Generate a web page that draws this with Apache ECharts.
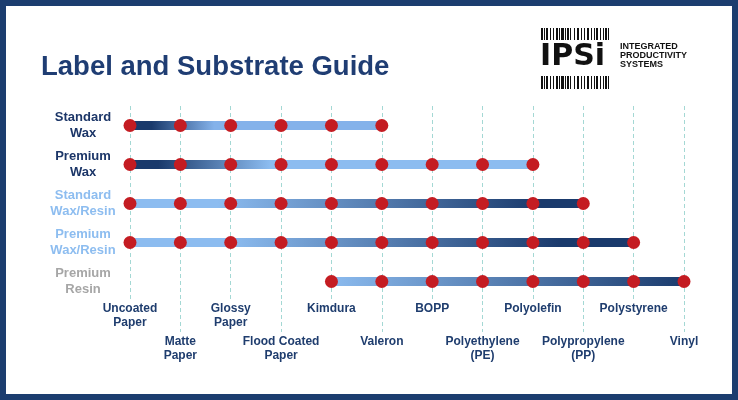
<!DOCTYPE html>
<html>
<head>
<meta charset="utf-8">
<script src="https://cdn.jsdelivr.net/npm/echarts@6/dist/echarts.min.js"></script>
<style>
  html, body { margin: 0; padding: 0; background: #fff; }
  #container { width: 738px; height: 400px; }
</style>
</head>
<body>
<div id="container"></div>
<script>
// substrates along the bottom, ribbons down the side
var substrates = ['Uncoated\nPaper', 'Matte\nPaper', 'Glossy\nPaper', 'Flood Coated\nPaper', 'Kimdura', 'Valeron',
    'BOPP', 'Polyethylene\n(PE)', 'Polyolefin', 'Polypropylene\n(PP)', 'Polystyrene', 'Vinyl']
var ribbons = ['Standard\nWax', 'Premium\nWax', 'Standard\nWax/Resin', 'Premium\nWax/Resin', 'Premium\nResin']
// first and last compatible substrate (index into substrates) for each ribbon
var firstSubstrate = [0, 0, 0, 0, 4]
var lastSubstrate = [5, 8, 9, 10, 11]
var ribbonColors = ['#1c3668', '#1c3668', '#8dbdf0', '#8dbdf0', '#a6a6a6']

var navy = '#1a3a6c', light = '#8cbcf0'
// gradient stops along each bar
var barStops = [
    [[0, navy], [0.1, navy], [0.34, '#84b2ea'], [1, '#84b2ea']],
    [[0, navy], [0.08, navy], [0.35, light], [1, light]],
    [[0, light], [0.2, light], [0.9, navy], [1, navy]],
    [[0, light], [0.2, light], [0.85, navy], [1, navy]],
    [[0, light], [1, navy]]
]

var myChart = echarts.init(document.getElementById('container'))

var series = []
for (let r = 0; r < ribbons.length; r++) {
    var pts = []
    for (let i = firstSubstrate[r]; i <= lastSubstrate[r]; i++) {
        pts.push([i, r])
    }
    series.push({
        type: 'line',
        data: pts,
        symbol: 'circle',
        symbolSize: 13,
        showAllSymbol: true,
        itemStyle: { color: '#c41c22' },
        lineStyle: {
            width: 9,
            cap: 'round',
            color: new echarts.graphic.LinearGradient(0, 0, 1, 0, barStops[r].map(function (s) {
                return { offset: s[0], color: s[1] }
            }))
        },
        emphasis: { disabled: true }
    })
}

// barcode strips of the logo
var barcode = [[0,2],[3,1],[5,2],[9,1],[12,1],[15,2],[18,1],[20,3],[24,1],[26,2],[29,1],[33,1],[36,2],
    [40,1],[43,1],[46,2],[50,1],[53,1],[55,2],[59,1],[62,1],[64,2],[67,1]]
var logo = []
barcode.forEach(function (b) {
    logo.push({ type: 'rect', shape: { x: 541 + b[0], y: 28, width: b[1], height: 12 }, style: { fill: '#111' } })
    logo.push({ type: 'rect', shape: { x: 541 + b[0], y: 76, width: b[1], height: 13 }, style: { fill: '#111' } })
})
logo.push({
    type: 'text', x: 540, y: 57,
    style: { text: 'IPSi', font: 'bold 30px "DejaVu Sans"', fill: '#111', verticalAlign: 'middle' }
})
logo.push({
    type: 'text', x: 620, y: 56,
    style: {
        text: 'INTEGRATED\nPRODUCTIVITY\nSYSTEMS', font: 'bold 9px "Liberation Sans", sans-serif',
        lineHeight: 9, fill: '#111', verticalAlign: 'middle'
    }
})
// frame
logo.push({
    type: 'rect', shape: { x: 0, y: 0, width: 738, height: 400 },
    style: { fill: 'none', stroke: '#1c3d6f', lineWidth: 12 }, z: 100
})

var dashed = { color: '#a4d8d4', width: 1, type: [4, 3] }

var option = {
    animation: false,
    backgroundColor: '#fff',
    title: {
        text: 'Label and Substrate Guide',
        left: 41, top: 53, padding: 0,
        textStyle: { fontFamily: '"Liberation Sans", Arial, sans-serif', fontSize: 27.5, fontWeight: 'bold', color: '#1f3d73' }
    },
    graphic: logo,
    grid: { left: 130, right: 54, top: 106, bottom: 99 },
    xAxis: [{
        type: 'category',
        data: substrates,
        boundaryGap: false,
        position: 'bottom',
        axisLine: { show: false },
        axisTick: { show: false },
        splitLine: { show: true, interval: 0, lineStyle: dashed },
        axisLabel: {
            interval: function (i) { return i % 2 === 0 },
            margin: 1,
            fontFamily: '"Liberation Sans", Arial, sans-serif',
            fontSize: 12, fontWeight: 'bold', lineHeight: 14, color: '#1f3d6e'
        }
    }, {
        type: 'category',
        data: substrates,
        boundaryGap: false,
        position: 'bottom',
        axisLine: { show: false },
        axisTick: { show: true, length: 31, interval: function (i) { return i % 2 === 1 }, lineStyle: dashed },
        splitLine: { show: false },
        axisLabel: {
            interval: function (i) { return i % 2 === 1 },
            margin: 34,
            fontFamily: '"Liberation Sans", Arial, sans-serif',
            fontSize: 12, fontWeight: 'bold', lineHeight: 14, color: '#1f3d6e'
        }
    }],
    yAxis: {
        type: 'category',
        data: ribbons,
        inverse: true,
        axisLine: { show: false },
        axisTick: { show: false },
        splitLine: { show: false },
        axisLabel: {
            align: 'center',
            margin: 47,
            fontFamily: '"Liberation Sans", Arial, sans-serif',
            fontSize: 13, fontWeight: 'bold', lineHeight: 16,
            color: function (v, i) { return ribbonColors[i] }
        }
    },
    series: series
}
myChart.setOption(option)
</script>
</body>
</html>
